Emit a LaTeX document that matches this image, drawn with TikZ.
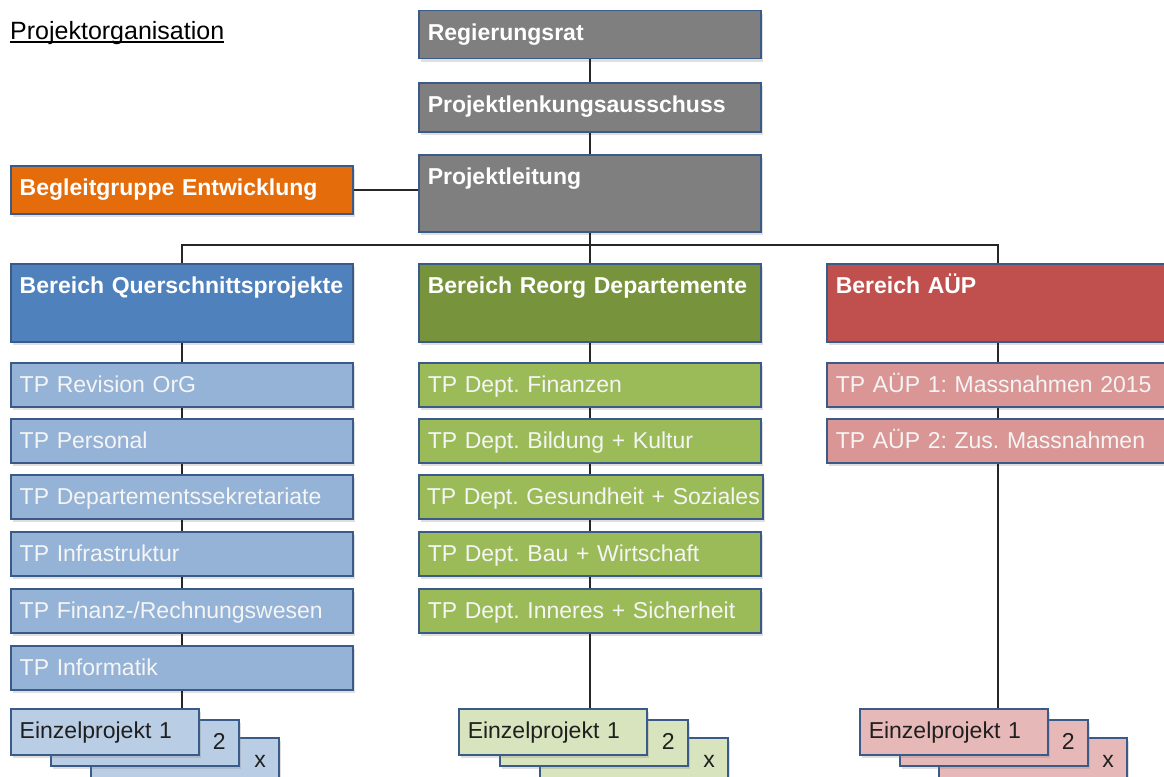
\documentclass[tikz,border=0pt]{standalone}
\usepackage{fontspec}
\setmainfont{Liberation Sans}
\usetikzlibrary{shadows}
\definecolor{bordc}{HTML}{3A5A87}
\definecolor{grayc}{HTML}{7F7F7F}
\definecolor{orangec}{HTML}{E46C0A}
\definecolor{bluec}{HTML}{4F81BD}
\definecolor{greenc}{HTML}{77933C}
\definecolor{redc}{HTML}{C0504D}
\definecolor{lblue}{HTML}{95B3D7}
\definecolor{lgreen}{HTML}{9BBB59}
\definecolor{lred}{HTML}{D99694}
\definecolor{eblue}{HTML}{B9CDE5}
\definecolor{egreen}{HTML}{D7E4BD}
\definecolor{ered}{HTML}{E6B9B8}
\definecolor{linec}{HTML}{262626}
\frenchspacing
\begin{document}
\frenchspacing
\begin{tikzpicture}[x=1pt,y=-1pt,
  every node/.style={font=\fontsize{23}{27}\selectfont},
  base/.style={draw=bordc, line width=1.5pt, anchor=north west, inner xsep=9pt, inner ysep=0pt,
    text height=30pt, align=left,
    drop shadow={opacity=0.25,shadow xshift=2pt,shadow yshift=-3pt}},
  wide/.style={base, text width=324pt},
  head/.style={wide, fill=#1, text=white, font=\fontsize{23}{27}\selectfont\bfseries},
  tp/.style={wide, fill=#1, text=white!96!black, text depth=14pt},
  ein/.style={base, fill=#1, text width=170pt, text=black!88, text depth=16pt},
  einr/.style={ein=#1, align=right, inner xsep=13pt, text width=162pt},
  conn/.style={draw=linec, line width=1.8pt}
]
\useasboundingbox (0,0) rectangle (1164,776);
\clip (0,0) rectangle (1164,776);

% title
\node[anchor=base west, inner sep=0pt, font=\fontsize{25}{30}\selectfont] (title) at (10,40) {Projektorganisation};
\draw[line width=1.3pt] ([yshift=-2pt]title.base west) -- ([yshift=-2pt]title.base east);

% top hierarchy
\node[head=grayc, text depth=18pt] (rr) at (418,10) {Regierungsrat};
\node[head=grayc, text depth=19pt] (pla) at (418,82) {Projektlenkungsausschuss};
\node[head=grayc, text depth=47pt] (pl) at (418,154) {Projektleitung};
\node[head=orangec, text depth=18pt] (bg) at (10,165) {Begleitgruppe Entwicklung};

% Bereiche
\node[head=bluec, text depth=48pt] (bq) at (10,263) {Bereich Querschnittsprojekte};
\node[head=greenc, text depth=48pt] (br) at (418,263) {Bereich Reorg Departemente};
\node[head=redc, text depth=48pt] (ba) at (826,263) {Bereich AÜP};

% left TPs
\node[tp=lblue] (q1) at (10,362) {TP Revision OrG};
\node[tp=lblue] (q2) at (10,418) {TP Personal};
\node[tp=lblue] (q3) at (10,474) {TP Departementssekretariate};
\node[tp=lblue] (q4) at (10,531) {TP Infrastruktur};
\node[tp=lblue] (q5) at (10,588) {TP Finanz-/Rechnungswesen};
\node[tp=lblue] (q6) at (10,645) {TP Informatik};

% middle TPs
\node[tp=lgreen] (r1) at (418,362) {TP Dept. Finanzen};
\node[tp=lgreen] (r2) at (418,418) {TP Dept. Bildung + Kultur};
\node[tp=lgreen, inner xsep=8pt, text width=328pt] (r3) at (418,474) {\mbox{TP Dept. Gesundheit + Soziales}};
\node[tp=lgreen] (r4) at (418,531) {TP Dept. Bau + Wirtschaft};
\node[tp=lgreen] (r5) at (418,588) {TP Dept. Inneres + Sicherheit};

% right TPs
\node[tp=lred] (a1) at (826,362) {TP AÜP 1: Massnahmen 2015};
\node[tp=lred] (a2) at (826,418) {TP AÜP 2: Zus. Massnahmen};

% Einzelprojekte stacks
\node[einr=eblue] (qe3) at (90,737) {x};
\node[einr=eblue] (qe2) at (50,719) {2};
\node[ein=eblue] (qe1) at (10,708) {Einzelprojekt 1};

\node[einr=egreen] (re3) at (539,737) {x};
\node[einr=egreen] (re2) at (499,719) {2};
\node[ein=egreen] (re1) at (458,708) {Einzelprojekt 1};

\node[einr=ered] (ae3) at (938,737) {x};
\node[einr=ered] (ae2) at (899,719) {2};
\node[ein=ered] (ae1) at (859,708) {Einzelprojekt 1};

% connectors
\draw[conn] (rr.south) -- (pla.north);
\draw[conn] (pla.south) -- (pl.north);
\draw[conn] (bg.east) -- (bg.east -| pl.west);
\coordinate (bus) at (pl.south |- 0,245);
\draw[conn] (pl.south) -- (bus);
\draw[conn] (bq.north) |- (bus) -| (ba.north);
\draw[conn] (bus) -- (br.north);

\draw[conn] (bq.south) -- (q1.north);
\draw[conn] (q1.south) -- (q2.north);
\draw[conn] (q2.south) -- (q3.north);
\draw[conn] (q3.south) -- (q4.north);
\draw[conn] (q4.south) -- (q5.north);
\draw[conn] (q5.south) -- (q6.north);
\draw[conn] (q6.south) -- (q6.south |- qe1.north);

\draw[conn] (br.south) -- (r1.north);
\draw[conn] (r1.south) -- (r2.north);
\draw[conn] (r2.south) -- (r2.south |- r3.north);
\draw[conn] (r2.south |- r3.south) -- (r4.north);
\draw[conn] (r4.south) -- (r5.north);
\draw[conn] (r5.south) -- (r5.south |- re1.north);

\draw[conn] (ba.south) -- (a1.north);
\draw[conn] (a1.south) -- (a2.north);
\draw[conn] (a2.south) -- (a2.south |- ae1.north);
\end{tikzpicture}
\end{document}
